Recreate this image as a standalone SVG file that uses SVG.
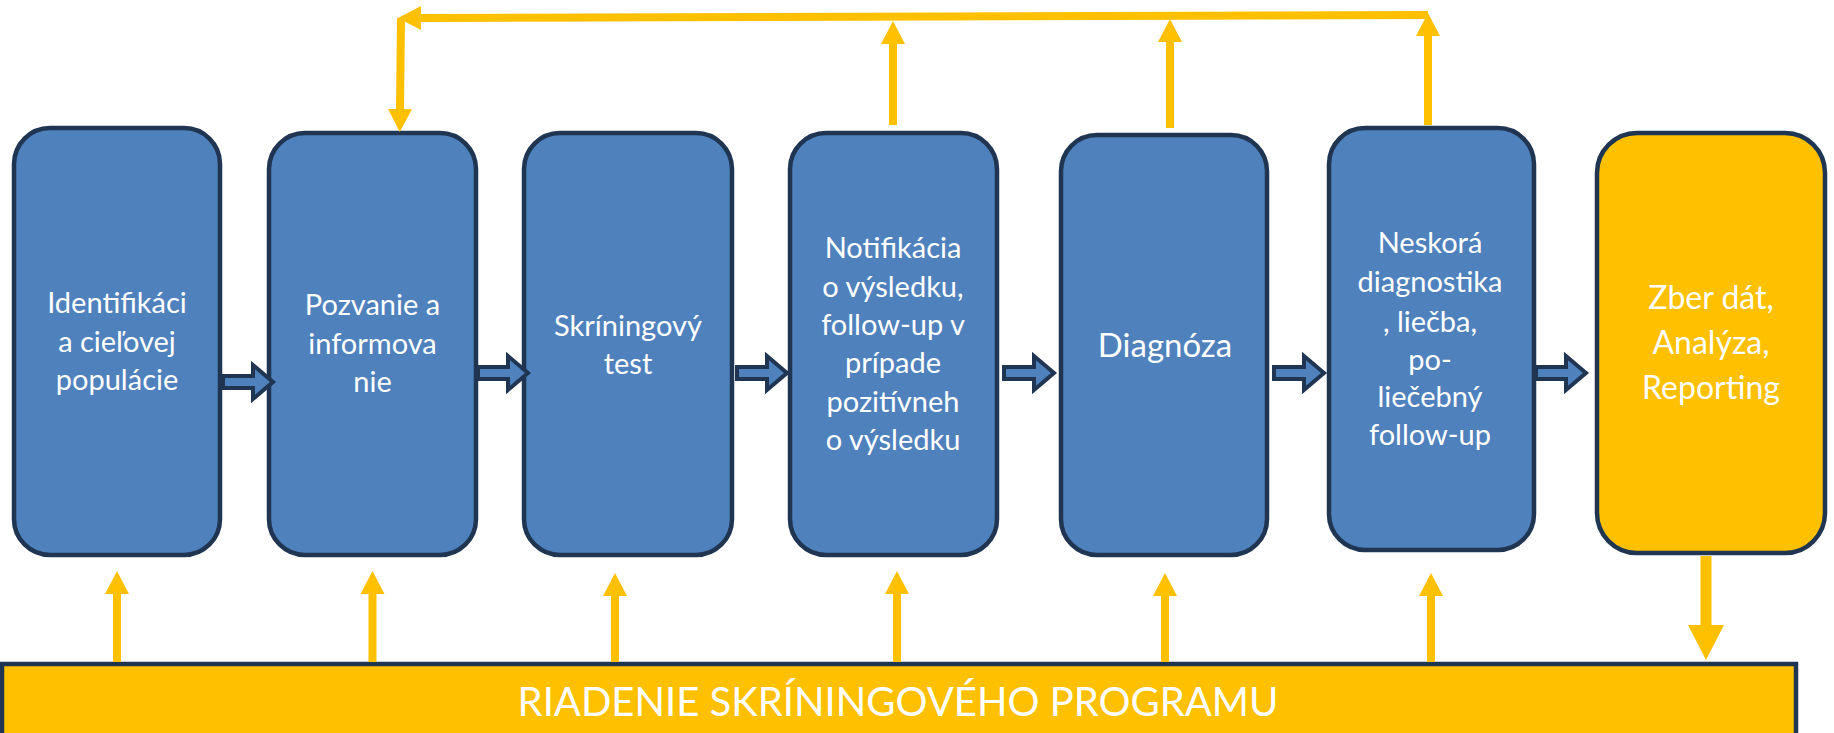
<svg xmlns="http://www.w3.org/2000/svg" width="1834" height="733" viewBox="0 0 1834 733">
<style>
.box{fill:#4F81BD;stroke:#1F3552;stroke-width:4.5}
.ybox{fill:#FFC000;stroke:#1F3552;stroke-width:4.5}
.t{font-family:Lato,"Liberation Sans",sans-serif;font-size:29px;fill:#FFFFFF;text-anchor:middle}
.t5{font-family:Lato,"Liberation Sans",sans-serif;font-size:33px;fill:#FFFFFF;text-anchor:middle}
.t7{font-family:Lato,"Liberation Sans",sans-serif;font-size:32px;fill:#FFFFFF;text-anchor:middle}
.tb{font-family:Lato,"Liberation Sans",sans-serif;font-size:40px;fill:#FFFFFF;text-anchor:middle}
.ya{fill:none;stroke:#FFC000;stroke-width:8;marker-end:url(#ah)}
.blk{fill:#4F81BD;stroke:#1F3552;stroke-width:4;stroke-linejoin:miter}
</style>
<defs>
<marker id="ah" markerUnits="userSpaceOnUse" markerWidth="23" markerHeight="24" viewBox="0 0 23 24" refX="0" refY="12" orient="auto"><path d="M0,0 L23,12 L0,24 z" fill="#FFC000"/></marker>
<marker id="ahb" markerUnits="userSpaceOnUse" markerWidth="35" markerHeight="36" viewBox="0 0 35 36" refX="0" refY="18" orient="auto"><path d="M0,0 L35,18 L0,36 z" fill="#FFC000"/></marker>
<path id="barrow" d="M0,-6 L30,-6 L30,-17 L50,0 L30,17 L30,6 L0,6 z"/>
</defs>

<g id="bar">
<rect x="2" y="664" width="1794" height="100" fill="#FFC000" stroke="#1F3552" stroke-width="4.5"/>
<text class="tb" x="898" y="716">RIADENIE SKRÍNINGOVÉHO PROGRAMU</text>
</g>

<g id="n1"><rect class="box" x="14" y="128" width="206" height="427" rx="36"/>
<text class="t" x="117"><tspan x="117" y="313">Identifikáci</tspan><tspan x="117" y="352">a cieľovej</tspan><tspan x="117" y="390">populácie</tspan></text></g>
<g id="n2"><rect class="box" x="269" y="133" width="207" height="422" rx="36"/>
<text class="t"><tspan x="372.5" y="315">Pozvanie a</tspan><tspan x="372.5" y="354">informova</tspan><tspan x="372.5" y="392">nie</tspan></text></g>
<g id="n3"><rect class="box" x="524" y="133" width="208" height="422" rx="36"/>
<text class="t"><tspan x="628" y="336">Skríningový</tspan><tspan x="628" y="374">test</tspan></text></g>
<g id="n4"><rect class="box" x="790" y="133" width="207" height="422" rx="36"/>
<text class="t"><tspan x="893" y="258">Notifikácia</tspan><tspan x="893" y="297">o výsledku,</tspan><tspan x="893" y="335">follow-up v</tspan><tspan x="893" y="373">prípade</tspan><tspan x="893" y="412">pozitívneh</tspan><tspan x="893" y="450">o výsledku</tspan></text></g>
<g id="n5"><rect class="box" x="1061" y="135" width="206" height="420" rx="36"/>
<text class="t5" x="1165" y="357">Diagnóza</text></g>
<g id="n6"><rect class="box" x="1329" y="128" width="205" height="422" rx="36"/>
<text class="t"><tspan x="1430" y="253">Neskorá</tspan><tspan x="1430" y="292">diagnostika</tspan><tspan x="1430" y="332">, liečba,</tspan><tspan x="1430" y="370">po-</tspan><tspan x="1430" y="407">liečebný</tspan><tspan x="1430" y="445">follow-up</tspan></text></g>
<g id="n7"><rect class="ybox" x="1597" y="133" width="228" height="420" rx="40"/>
<text class="t7"><tspan x="1711" y="309">Zber dát,</tspan><tspan x="1711" y="354">Analýza,</tspan><tspan x="1711" y="399">Reporting</tspan></text></g>

<g id="connectors">
<use href="#barrow" class="blk" transform="translate(223,382)"/>
<use href="#barrow" class="blk" transform="translate(478,373)"/>
<use href="#barrow" class="blk" transform="translate(737,373)"/>
<use href="#barrow" class="blk" transform="translate(1004,373)"/>
<use href="#barrow" class="blk" transform="translate(1274,373)"/>
<use href="#barrow" class="blk" transform="translate(1536,373)"/>

<path class="ya" d="M117,662 L117,594"/>
<path class="ya" d="M372.5,662 L372.5,594"/>
<path class="ya" d="M615,662 L615,596"/>
<path class="ya" d="M897,662 L897,594"/>
<path class="ya" d="M1165,662 L1165,596"/>
<path class="ya" d="M1431,662 L1431,596"/>
<path d="M1706,556 L1706,625" fill="none" stroke="#FFC000" stroke-width="11" marker-end="url(#ahb)"/>

<path class="ya" d="M893,125 L893,44"/>
<path class="ya" d="M1170,128 L1170,42"/>
<path class="ya" d="M1428,125 L1428,36"/>
<path class="ya" d="M1428,15 L421,18"/>
<path class="ya" d="M401,18 L400,109"/>
</g>
</svg>
